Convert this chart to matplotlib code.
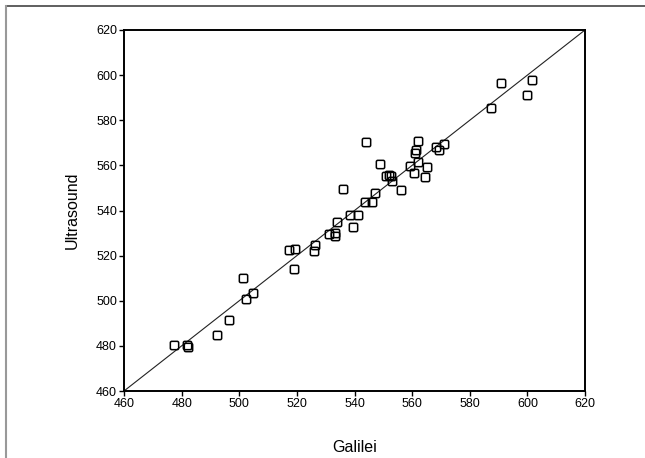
import matplotlib
matplotlib.use('Agg')
import matplotlib.pyplot as plt
from matplotlib.lines import Line2D
from matplotlib.path import Path
import numpy as np

plt.rcParams['font.family'] = ['Liberation Sans', 'DejaVu Sans']

galilei = [477.4, 481.8, 482.3, 492.2, 496.5, 501.4, 502.4, 504.7, 517.4, 519.4,
           519.0, 526.0, 526.4, 531.0, 533.3, 533.1, 533.8, 538.5, 539.6, 541.3,
           543.7, 546.2, 547.2, 535.9, 544.0, 548.9, 551.0, 552.1, 552.6, 553.0,
           556.2, 559.2, 560.7, 561.0, 561.4, 562.0, 562.2, 564.5, 565.1, 568.3,
           569.5, 570.9, 587.5, 590.8, 599.8, 601.7]
ultrasound = [480.5, 480.4, 479.5, 484.7, 491.3, 510.1, 500.6, 503.3, 522.5, 522.8,
              513.9, 521.9, 524.7, 529.6, 530.2, 528.9, 535.1, 538.0, 532.6, 537.8,
              543.8, 543.8, 547.8, 549.5, 570.2, 560.7, 555.5, 555.9, 555.2, 553.0,
              548.9, 559.8, 556.5, 565.6, 567.0, 570.8, 561.5, 554.8, 559.3, 568.0,
              567.0, 569.3, 585.6, 596.6, 591.0, 597.8]
ticks = [460, 480, 500, 520, 540, 560, 580, 600, 620]

# square marker with rounded corners
r = 0.35
verts = [(-1 + r, -1), (1 - r, -1), (1, -1), (1, -1 + r), (1, 1 - r), (1, 1), (1 - r, 1),
         (-1 + r, 1), (-1, 1), (-1, 1 - r), (-1, -1 + r), (-1, -1), (-1 + r, -1)]
codes = [Path.MOVETO, Path.LINETO, Path.CURVE3, Path.CURVE3, Path.LINETO, Path.CURVE3,
         Path.CURVE3, Path.LINETO, Path.CURVE3, Path.CURVE3, Path.LINETO, Path.CURVE3,
         Path.CURVE3]
roundsq = Path(verts, codes)

fig = plt.figure(figsize=(6.45, 4.58), dpi=100)
ax = fig.add_axes([124 / 645, 1 - 391 / 458, 461 / 645, 361 / 458])

# identity line
ax.plot([ticks[0], ticks[-1]], [ticks[0], ticks[-1]], color='#222222', lw=0.8)
ax.plot(galilei, ultrasound, linestyle='none', marker=roundsq, markersize=6,
        mfc='none', mec='black', mew=1.1)

ax.set_xlim(460, 620)
ax.set_ylim(460, 620)
ax.set_xticks(ticks)
ax.set_yticks(ticks)
ax.tick_params(direction='out', length=3.5, width=1, labelsize=9, pad=1.5)
for s in ax.spines.values():
    s.set_linewidth(1.4)

ax.set_xlabel('Galilei', fontsize=11.5, labelpad=22)
ax.set_ylabel('Ultrasound', fontsize=11.5, labelpad=12)

# window frame (top and left)
fig.add_artist(Line2D([6 / 645, 1], [1 - 6 / 458, 1 - 6 / 458], color='#444444', lw=1.2))
fig.add_artist(Line2D([6 / 645, 6 / 645], [0, 1 - 6 / 458], color='#999999', lw=1.5))

fig.savefig('out.png', dpi=100)
